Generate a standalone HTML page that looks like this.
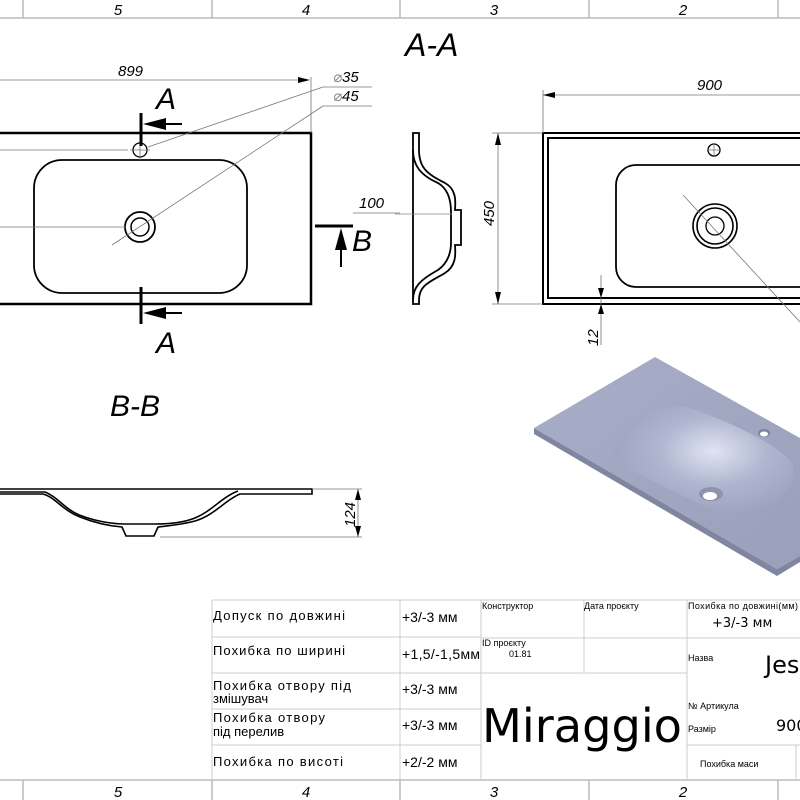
<!DOCTYPE html>
<html><head><meta charset="utf-8"><style>
html,body{margin:0;padding:0;background:#fff;}
svg{display:block;}
text{font-family:"Liberation Sans","DejaVu Sans",sans-serif;}
.it{font-style:italic;}
.tb{font-family:"DejaVu Sans","Liberation Sans",sans-serif;}
</style></head><body>
<svg width="800" height="800" viewBox="0 0 800 800" xmlns="http://www.w3.org/2000/svg">
<defs>
<linearGradient id="g1" x1="0" y1="0" x2="1" y2="1">
<stop offset="0" stop-color="#a9aec8"/><stop offset="1" stop-color="#9aa0ba"/>
</linearGradient>
<radialGradient id="g2" cx="0.55" cy="0.4" r="0.6">
<stop offset="0" stop-color="#dfe3f2"/><stop offset="0.5" stop-color="#b0b6d0"/><stop offset="1" stop-color="#9ca2bd"/>
</radialGradient>
</defs>

<g stroke="#bbb" stroke-width="1.5" fill="none">
<line x1="0" y1="18" x2="800" y2="18"/>
<line x1="23" y1="0" x2="23" y2="18"/><line x1="212" y1="0" x2="212" y2="18"/>
<line x1="400" y1="0" x2="400" y2="18"/><line x1="589" y1="0" x2="589" y2="18"/><line x1="778" y1="0" x2="778" y2="18"/>
<line x1="0" y1="780" x2="800" y2="780"/>
<line x1="23" y1="780" x2="23" y2="800"/><line x1="212" y1="780" x2="212" y2="800"/>
<line x1="400" y1="780" x2="400" y2="800"/><line x1="589" y1="780" x2="589" y2="800"/><line x1="778" y1="780" x2="778" y2="800"/>
</g>
<g class="it" font-size="15" text-anchor="middle">
<text x="118" y="15">5</text><text x="306" y="15">4</text><text x="494" y="15">3</text><text x="683" y="15">2</text>
<text x="118" y="797">5</text><text x="306" y="797">4</text><text x="494" y="797">3</text><text x="683" y="797">2</text>
</g>

<g fill="none" stroke="#000">
<rect x="-5" y="133" width="316" height="171" stroke-width="2.5"/>
<rect x="34" y="160" width="213" height="133" rx="28" stroke-width="1.8"/>
<circle cx="140" cy="150" r="7" stroke-width="1.3"/>
<circle cx="140" cy="227" r="15" stroke-width="1.8"/>
<circle cx="140" cy="227" r="9" stroke-width="1.5"/>
</g>
<g stroke="#777" stroke-width="0.8" fill="none">
<line x1="0" y1="150" x2="128" y2="150"/>
<line x1="0" y1="227" x2="126" y2="227"/>
<line x1="0" y1="80" x2="308" y2="80"/>
<line x1="311" y1="77" x2="311" y2="133"/>
<line x1="323" y1="87" x2="372" y2="87"/><line x1="323" y1="87" x2="148" y2="147"/>
<line x1="323" y1="106" x2="372" y2="106"/><line x1="323" y1="106" x2="112" y2="245"/>
<line x1="353" y1="213" x2="400" y2="213"/>
<line x1="140" y1="140" x2="140" y2="160"/><line x1="130" y1="150" x2="150" y2="150"/>
</g>
<path d="M298,77 L310,80 L298,83 Z"/>
<text class="it" x="118" y="76" font-size="15">899</text>
<text class="it" x="333" y="82" font-size="15"><tspan fill="#888">⌀</tspan>35</text>
<text class="it" x="333" y="101" font-size="15"><tspan fill="#888">⌀</tspan>45</text>
<text class="it" x="359" y="208" font-size="15">100</text>
<g stroke="#000" stroke-width="3"><line x1="141" y1="113" x2="141" y2="146"/><line x1="141" y1="287" x2="141" y2="324"/>
<line x1="315" y1="226" x2="353" y2="226"/></g>
<g stroke="#000" stroke-width="2"><line x1="150" y1="124" x2="182" y2="124"/><line x1="150" y1="313" x2="182" y2="313"/><line x1="341" y1="240" x2="341" y2="267"/></g>
<path d="M143,124 L166,118 L166,130 Z"/><path d="M143,313 L166,307 L166,319 Z"/><path d="M341,228 L335,250 L347,250 Z"/>
<text class="it" x="156" y="109" font-size="30">A</text>
<text class="it" x="156" y="353" font-size="30">A</text>
<text class="it" x="352" y="251" font-size="30">B</text>
<text class="it" x="405" y="56" font-size="32">A-A</text>

<g fill="none" stroke="#000" stroke-width="1.8">
<path d="M413,133 L419,133 L419,150 C419,170 430,175 445,183 C458,190 455,205 455,210 L461,210 L461,245 L455,245 C455,250 458,265 445,273 C430,282 419,285 419,300 L419,304 L413,304 Z"/>
<path d="M413,150 C413,165 420,175 438,183 C450,190 451,205 451,212 L451,243 C451,252 448,263 438,270 C420,280 413,287 413,300"/>
</g>
<line x1="395" y1="214" x2="452" y2="214" stroke="#888" stroke-width="0.8"/>

<g fill="none" stroke="#000">
<rect x="543" y="133" width="270" height="171" stroke-width="2"/>
<rect x="548" y="138" width="270" height="160" stroke-width="2"/>
<rect x="616" y="165" width="220" height="122" rx="20" stroke-width="1.8"/>
<circle cx="714" cy="150" r="6" stroke-width="1.3"/>
<circle cx="715" cy="226" r="22" stroke-width="1.6"/>
<circle cx="715" cy="226" r="18" stroke-width="1.6"/>
<circle cx="715" cy="226" r="9" stroke-width="1.3"/>
</g>
<g stroke="#777" stroke-width="0.8" fill="none">
<line x1="543" y1="95" x2="800" y2="95"/><line x1="543" y1="90" x2="543" y2="133"/>
<line x1="498" y1="133" x2="498" y2="304"/><line x1="492" y1="133" x2="543" y2="133"/><line x1="492" y1="304" x2="543" y2="304"/>
<line x1="601" y1="275" x2="601" y2="345"/>
<line x1="683" y1="195" x2="800" y2="322"/>
<line x1="708" y1="150" x2="720" y2="150"/><line x1="714" y1="144" x2="714" y2="156"/>
</g>
<path d="M543,95 L555,92 L555,98 Z"/>
<path d="M498,133 L495,145 L501,145 Z"/><path d="M498,304 L495,292 L501,292 Z"/>
<path d="M601,298 L598,288 L604,288 Z"/><path d="M601,304 L598,314 L604,314 Z"/>
<text class="it" x="697" y="90" font-size="15">900</text>
<text class="it" transform="translate(494,226) rotate(-90)" font-size="15">450</text>
<text class="it" transform="translate(598,346) rotate(-90)" font-size="15">12</text>

<text class="it" x="110" y="416" font-size="30">B-B</text>
<g fill="none" stroke="#000" stroke-width="1.6">
<path d="M0,489 L312,489 L312,494 L240,494 C225,500 215,515 195,521 C180,525 165,526 158,527 L154,536 L126,536 L122,527 C110,526 95,523 80,517 C62,510 55,497 43,494 L0,494"/>
<path d="M0,492 L45,492 C58,497 65,510 82,516 C98,522 115,524 125,524 L155,524 C170,524 185,522 195,518 C212,511 222,497 238,491"/>
</g>
<g stroke="#777" stroke-width="0.8"><line x1="312" y1="489" x2="362" y2="489"/><line x1="160" y1="537" x2="362" y2="537"/><line x1="358" y1="489" x2="358" y2="537"/></g>
<path d="M358,489 L355,500 L361,500 Z"/><path d="M358,537 L355,526 L361,526 Z"/>
<text class="it" transform="translate(355,527) rotate(-90)" font-size="15">124</text>

<!-- 3D render -->
<path d="M534,428 L777,569 L800,556 L800,562 L777,576 L534,434 Z" fill="#80869f"/>
<path d="M534,428 L655,357 L800,438 L800,556 L777,569 Z" fill="url(#g1)"/>
<path d="M615,450 C625,420 660,400 690,408 C720,418 770,440 790,460 C800,475 790,490 770,510 C755,522 740,520 725,515 C690,500 650,480 630,470 C620,465 612,460 615,450 Z" fill="url(#g2)"/>
<ellipse cx="711" cy="494" rx="12" ry="7" fill="#8e94b0"/><ellipse cx="710" cy="496" rx="7" ry="4" fill="#fff"/>
<ellipse cx="764" cy="433" rx="6" ry="4" fill="#7e849f"/><ellipse cx="764" cy="434" rx="4" ry="2.5" fill="#fff"/>

<g stroke="#ccc" stroke-width="1" fill="none">
<line x1="212" y1="600" x2="800" y2="600"/>
<line x1="212" y1="600" x2="212" y2="780"/>
<line x1="400" y1="600" x2="400" y2="780"/>
<line x1="481" y1="600" x2="481" y2="780"/>
<line x1="584" y1="600" x2="584" y2="673"/>
<line x1="687" y1="600" x2="687" y2="780"/>
<line x1="796" y1="745" x2="796" y2="780"/>
<line x1="212" y1="637" x2="481" y2="637"/><line x1="481" y1="638" x2="687" y2="638"/><line x1="687" y1="638" x2="800" y2="638"/>
<line x1="212" y1="673" x2="687" y2="673"/>
<line x1="212" y1="709" x2="481" y2="709"/>
<line x1="212" y1="745" x2="481" y2="745"/><line x1="687" y1="745" x2="800" y2="745"/>
</g>
<g class="tb" font-size="13">
<text x="213" y="620" textLength="132">Допуск по довжині</text>
<text x="213" y="655" textLength="132">Похибка по ширині</text>
<text x="213" y="690" textLength="138">Похибка отвору під</text><text x="213" y="703">змішувач</text>
<text x="213" y="722" textLength="112">Похибка отвору</text><text x="213" y="736">під перелив</text>
<text x="213" y="766" textLength="130">Похибка по висоті</text>
<text x="402" y="622" font-size="14">+3/-3 мм</text>
<text x="402" y="659" font-size="14" textLength="78">+1,5/-1,5мм</text>
<text x="402" y="694" font-size="14">+3/-3 мм</text>
<text x="402" y="730" font-size="14">+3/-3 мм</text>
<text x="402" y="767" font-size="14">+2/-2 мм</text>
</g>
<g class="tb" font-size="9">
<text x="482" y="609">Конструктор</text>
<text x="584" y="609">Дата проєкту</text>
<text x="482" y="646">ID проєкту</text><text x="509" y="657">01.81</text>
<text x="688" y="609" textLength="110">Похибка по довжині(мм)</text>
<text x="688" y="661">Назва</text>
<text x="688" y="709">№ Артикула</text>
<text x="688" y="732">Размір</text>
<text x="700" y="767">Похибка маси</text>
</g>
<text class="tb" x="712" y="627" font-size="13">+3/-3 мм</text>
<text class="tb" x="765" y="673" font-size="24">Jes</text>
<text class="tb" x="776" y="731" font-size="16">900</text>
<text class="tb" x="482" y="742" font-size="46" textLength="200" lengthAdjust="spacingAndGlyphs">Miraggio</text>
</svg>
</body></html>
